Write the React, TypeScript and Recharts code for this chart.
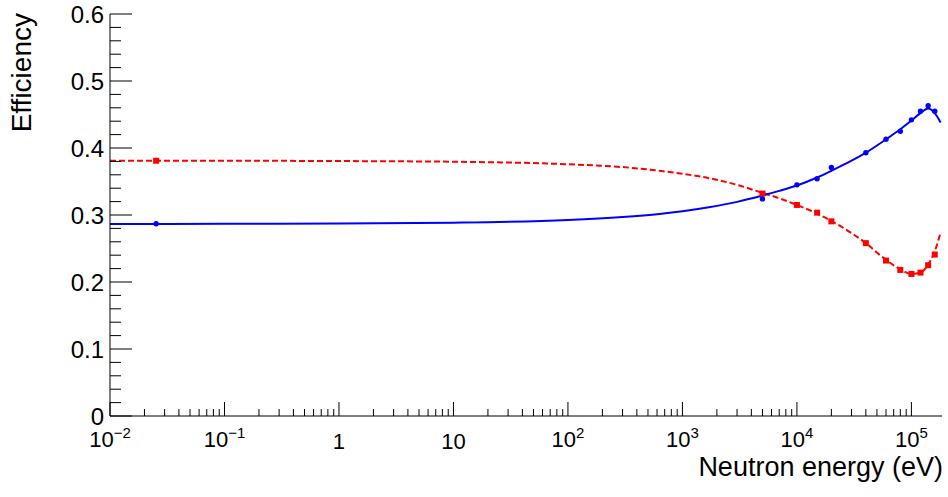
import React from 'react'
import { ComposedChart, Line, Scatter, XAxis, YAxis } from 'recharts'

// measured points (energy in eV)
const pointEnergies = [0.0253, 5000, 10000, 15000, 20000, 40000, 60000, 80000, 100000, 120000, 140000, 160000]
const bluePoints = [0.287, 0.324, 0.345, 0.354, 0.371, 0.393, 0.413, 0.425, 0.442, 0.455, 0.463, 0.455]
const redPoints = [0.381, 0.332, 0.315, 0.3035, 0.2905, 0.258, 0.232, 0.218, 0.212, 0.214, 0.225, 0.241]

// fitted curves
const curveEnergies = [0.01, 0.1, 1, 10, 100, 300, 630, 1000, 1700, 3000, 5000, 7000, 10000, 15000, 20000, 30000, 40000, 60000, 80000, 100000, 120000, 140000, 160000, 180000]
const blueFit = [0.2866, 0.2868, 0.2873, 0.2885, 0.2925, 0.297, 0.3016, 0.3056, 0.3116, 0.3196, 0.329, 0.336, 0.344, 0.356, 0.366, 0.381, 0.393, 0.413, 0.428, 0.441, 0.452, 0.459, 0.452, 0.438]
const redFit = [0.381, 0.381, 0.3805, 0.3795, 0.3757, 0.3715, 0.366, 0.3615, 0.355, 0.345, 0.333, 0.325, 0.315, 0.302, 0.291, 0.273, 0.258, 0.233, 0.219, 0.212, 0.214, 0.226, 0.246, 0.274]

const xMajor = [0.01, 0.1, 1, 10, 100, 1000, 10000, 100000]
const xTicks = xMajor.flatMap(d => [1, 2, 3, 4, 5, 6, 7, 8, 9].map(m => d * m)).filter(v => v <= 185000)
const yTicks = Array.from({ length: 31 }, (_, i) => +(i * 0.02).toFixed(2))

const FONT = '"Liberation Sans", Arial, Helvetica, sans-serif'

const zip = (xs: number[], ys: number[]) => xs.map((x, i) => ({ x, y: ys[i] }))
const blueFitData = zip(curveEnergies, blueFit)
const redFitData = zip(curveEnergies, redFit)
const bluePointData = zip(pointEnergies, bluePoints)
const redPointData = zip(pointEnergies, redPoints)

function XTick(props: any) {
  const { x, y, payload } = props
  const v = payload.value
  const lg = Math.log10(v)
  const e = Math.round(lg)
  const major = Math.abs(lg - e) < 1e-6
  let label = null
  if (major) {
    if (e === 0 || e === 1) {
      label = (
        <text x={x} y={y + 33} textAnchor="middle" fontSize={22} fontFamily={FONT} fill="#000">
          {e === 0 ? '1' : '10'}
        </text>
      )
    } else {
      label = (
        <text x={x} y={y + 31} textAnchor="middle" fontFamily={FONT} fill="#000">
          <tspan fontSize={22}>10</tspan>
          <tspan fontSize={15} dy={-9}>{e < 0 ? '\u2212' + -e : String(e)}</tspan>
        </text>
      )
    }
  }
  return (
    <g>
      <line x1={x} x2={x} y1={y} y2={y - (major ? 14 : 7)} stroke="#000" strokeWidth={1} />
      {label}
    </g>
  )
}

function YTick(props: any) {
  const { x, y, payload } = props
  const v = payload.value
  const major = Math.abs(v * 10 - Math.round(v * 10)) < 1e-6
  return (
    <g>
      <line x1={x} x2={x + (major ? 22 : 11)} y1={y} y2={y} stroke="#000" strokeWidth={1} />
      {major && (
        <text x={x - 6} y={y + 9} textAnchor="end" fontSize={24} fontFamily={FONT} fill="#000">
          {v === 0 ? '0' : v.toFixed(1)}
        </text>
      )}
    </g>
  )
}

const XTitle = (props: any) => {
  const { viewBox } = props
  return (
    <text x={viewBox.x + viewBox.width + 1} y={476} textAnchor="end" fontSize={27} fontFamily={FONT} fill="#000">
      Neutron energy (eV)
    </text>
  )
}

const YTitle = () => (
  <text x={31} y={13} transform="rotate(-90, 31, 13)" textAnchor="end" fontSize={28} fontFamily={FONT} fill="#000">
    Efficiency
  </text>
)

const Circle = (p: any) => <circle cx={p.cx} cy={p.cy} r={2.7} fill="#0000ff" />
const Square = (p: any) => <rect x={p.cx - 3} y={p.cy - 3} width={6} height={6} fill="#ff0000" />

export default function App() {
  return (
    <div style={{ position: 'absolute', left: 0, top: 0, background: '#fff' }}>
      <ComposedChart width={948} height={497} margin={{ top: 14, right: 6, left: 0, bottom: 0 }}>
        <XAxis
          dataKey="x"
          type="number"
          scale="log"
          domain={[0.01, 185000]}
          allowDataOverflow
          ticks={xTicks}
          interval={0}
          height={81}
          tickSize={0}
          tickMargin={0}
          tickLine={false}
          axisLine={{ stroke: '#000', strokeWidth: 1 }}
          tick={<XTick />}
          label={<XTitle />}
        />
        <XAxis
          xAxisId="top"
          orientation="top"
          dataKey="x"
          type="number"
          scale="log"
          domain={[0.01, 185000]}
          allowDataOverflow
          height={0}
          tick={false}
          tickLine={false}
          axisLine={{ stroke: '#000', strokeWidth: 1 }}
        />
        <YAxis
          dataKey="y"
          type="number"
          domain={[0, 0.6]}
          allowDataOverflow
          ticks={yTicks}
          interval={0}
          width={110}
          tickSize={0}
          tickMargin={0}
          tickLine={false}
          axisLine={{ stroke: '#000', strokeWidth: 1 }}
          tick={<YTick />}
          label={<YTitle />}
        />
        <YAxis
          yAxisId="right"
          orientation="right"
          type="number"
          domain={[0, 0.6]}
          width={0}
          tick={false}
          tickLine={false}
          axisLine={{ stroke: '#000', strokeWidth: 1 }}
        />
        <Line
          data={redFitData}
          dataKey="y"
          type="monotone"
          stroke="#ff0000"
          strokeWidth={2}
          strokeDasharray="6 3"
          dot={false}
          activeDot={false}
          isAnimationActive={false}
        />
        <Line
          data={blueFitData}
          dataKey="y"
          type="monotone"
          stroke="#0000ff"
          strokeWidth={2}
          dot={false}
          activeDot={false}
          isAnimationActive={false}
        />
        <Scatter data={redPointData} dataKey="y" shape={<Square />} isAnimationActive={false} />
        <Scatter data={bluePointData} dataKey="y" shape={<Circle />} isAnimationActive={false} />
      </ComposedChart>
    </div>
  )
}
